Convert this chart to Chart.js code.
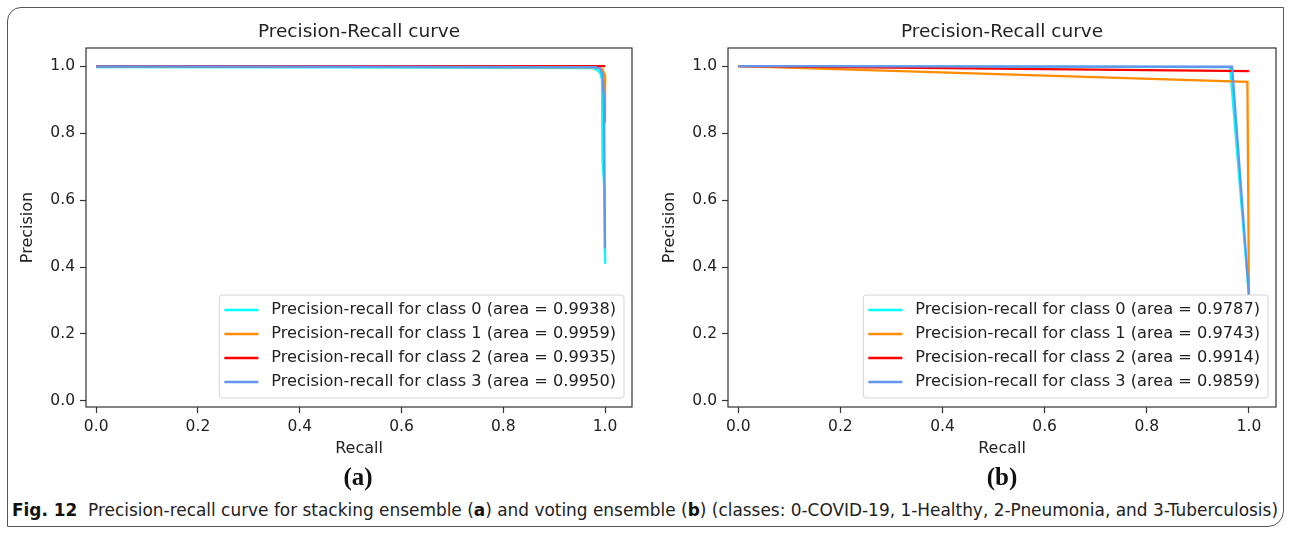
<!DOCTYPE html>
<html>
<head>
<meta charset="utf-8">
<script src="https://cdn.jsdelivr.net/npm/chart.js@4.4.0/dist/chart.umd.min.js"></script>
<style>
  html, body { margin: 0; padding: 0; background: #fff; }
  body { width: 1290px; height: 533px; position: relative; overflow: hidden; }
  #frame {
    position: absolute; left: 7px; top: 7px; width: 1277px; height: 520px;
    box-sizing: border-box; border: 1.5px solid #555; border-radius: 14px 0 16px 0;
  }
  .wrap { position: absolute; top: 0; width: 642px; height: 470px; }
  #wrapA { left: 0; }
  #wrapB { left: 642px; }
  .sub {
    position: absolute; top: 462px; transform: translateX(-50%);
    font: bold 25px "Liberation Serif", serif; line-height: 30px; color: #111;
  }
  #caption {
    position: absolute; left: 12px; top: 498px; white-space: nowrap;
    font-family: "Liberation Sans Narrow", "DejaVu Sans Condensed", "Liberation Sans", sans-serif;
    font-size: 18px; line-height: 23px; color: #222; transform-origin: left top;
  }
  #caption b { color: #111; }
</style>
</head>
<body>
<div id="frame"></div>
<div class="wrap" id="wrapA"><canvas id="chartA" width="642" height="470"></canvas></div>
<div class="wrap" id="wrapB"><canvas id="chartB" width="642" height="470"></canvas></div>
<div class="sub" style="left:358px">(a)</div>
<div class="sub" style="left:1002px">(b)</div>
<div id="caption"><b>Fig. 12</b>&nbsp; Precision-recall curve for stacking ensemble (<b>a</b>) and voting ensemble (<b>b</b>) (classes: 0-COVID-19, 1-Healthy, 2-Pneumonia, and 3-Tuberculosis)</div>

<script>
"use strict";

// shared
var classIds = [0, 1, 2, 3];
var lineColors = ["#00ffff", "#ff8c00", "#ff0000", "#6495ed"];
var tickValues = [0, 0.2, 0.4, 0.6, 0.8, 1.0];
var tickLabels = ["0.0", "0.2", "0.4", "0.6", "0.8", "1.0"];

// (a) stacking ensemble
var stackAreas = [0.9938, 0.9959, 0.9935, 0.9950];
var stackRecall0 = [0, 0.5, 0.975, 0.985, 0.991, 0.994, 0.995, 0.998, 1.0];
var stackPrec0 = [0.997, 0.996, 0.994, 0.988, 0.978, 0.96, 0.72, 0.65, 0.41];
var stackRecall1 = [0, 0.5, 0.985, 0.995, 1.0, 1.0];
var stackPrec1 = [1.0, 0.998, 0.996, 0.99, 0.97, 0.83];
var stackRecall2 = [0, 0.5, 1.0];
var stackPrec2 = [1.0, 1.0, 1.0];
var stackRecall3 = [0, 0.5, 0.98, 0.99, 0.995, 0.998, 1.0];
var stackPrec3 = [0.999, 0.998, 0.997, 0.993, 0.975, 0.9, 0.455];

// (b) voting ensemble
var voteAreas = [0.9787, 0.9743, 0.9914, 0.9859];
var voteRecall0 = [0, 0.963, 1.0];
var votePrec0 = [1.0, 0.997, 0.316];
var voteRecall1 = [0, 0.997, 1.0];
var votePrec1 = [1.0, 0.953, 0.316];
var voteRecall2 = [0, 1.0];
var votePrec2 = [1.0, 0.985];
var voteRecall3 = [0, 0.967, 1.0];
var votePrec3 = [1.0, 0.998, 0.316];

var stackRecalls = [stackRecall0, stackRecall1, stackRecall2, stackRecall3];
var stackPrecs = [stackPrec0, stackPrec1, stackPrec2, stackPrec3];
var voteRecalls = [voteRecall0, voteRecall1, voteRecall2, voteRecall3];
var votePrecs = [votePrec0, votePrec1, votePrec2, votePrec3];

var textColor = "#222";
var spineColor = "#333";
var fontFamily = '"DejaVu Sans", sans-serif';

function makeSets(recalls, precs, areas) {
  return recalls.map(function (r, i) {
    return {
      label: "Precision-recall for class " + classIds[i] + " (area = " + areas[i].toFixed(4) + ")",
      data: r.map(function (x, j) { return { x: x, y: precs[i][j] }; }),
      borderColor: lineColors[i],
      backgroundColor: lineColors[i],
      showLine: true,
      pointRadius: 0,
      borderWidth: 2.3,
      fill: false,
      order: classIds.length - 1 - i // later classes on top, like matplotlib
    };
  });
}

// spines, title and the boxed legend drawn matplotlib-like
var mplFrame = {
  id: "mplFrame",
  afterDatasetsDraw: function (chart, args, opts) {
    var ctx = chart.ctx;
    var a = chart.chartArea;
    ctx.save();
    ctx.strokeStyle = spineColor;
    ctx.lineWidth = 1.2;
    ctx.strokeRect(a.left, a.top, a.right - a.left, a.bottom - a.top);

    ctx.fillStyle = textColor;
    ctx.font = "18.5px " + fontFamily;
    ctx.textAlign = "center";
    ctx.textBaseline = "middle";
    ctx.fillText(opts.title, (a.left + a.right) / 2, 32);

    // legend, lower right
    ctx.font = "16.2px " + fontFamily;
    var sets = chart.data.datasets;
    var tw = 0;
    sets.forEach(function (d) { tw = Math.max(tw, ctx.measureText(d.label).width); });
    var rowH = 24;
    var boxW = 5 + 34 + 13 + tw + 8;
    var boxH = sets.length * rowH + 7;
    var right = a.right - 8;
    var bottom = a.bottom - 9;
    var left = right - boxW;
    var top = bottom - boxH;
    ctx.beginPath();
    ctx.roundRect(left, top, boxW, boxH, 3);
    ctx.fillStyle = "rgba(255,255,255,0.85)";
    ctx.fill();
    ctx.strokeStyle = "#d4d4d4";
    ctx.lineWidth = 1;
    ctx.stroke();
    ctx.textAlign = "left";
    sets.forEach(function (d, i) {
      var cy = top + 15 + i * rowH;
      ctx.strokeStyle = d.borderColor;
      ctx.lineWidth = 2.5;
      ctx.beginPath();
      ctx.moveTo(left + 5, cy);
      ctx.lineTo(left + 39, cy);
      ctx.stroke();
      ctx.fillStyle = textColor;
      ctx.fillText(d.label, left + 52, cy);
    });
    ctx.restore();
  }
};

function axis(min, max, title, isY) {
  return {
    type: "linear",
    min: min,
    max: max,
    afterBuildTicks: function (s) {
      s.ticks = tickValues.map(function (v) { return { value: v }; });
    },
    afterFit: function (s) {
      if (isY) s.width = 86; else s.height = 63;
    },
    ticks: {
      autoSkip: false,
      maxRotation: 0,
      padding: 5,
      color: textColor,
      font: { family: fontFamily, size: 15.5 },
      callback: function (v, i) { return tickLabels[i]; }
    },
    grid: {
      display: true,
      drawOnChartArea: false,
      drawTicks: true,
      tickLength: 6,
      tickColor: spineColor,
      tickWidth: 1.2
    },
    border: { display: false },
    title: {
      display: true,
      text: title,
      color: textColor,
      font: { family: fontFamily, size: 16 },
      padding: isY ? { top: 18, bottom: 0 } : { top: 0, bottom: 12 }
    }
  };
}

function makeChart(id, sets, padRight) {
  return new Chart(document.getElementById(id), {
    type: "scatter",
    data: { datasets: sets },
    options: {
      responsive: false,
      animation: false,
      devicePixelRatio: 1,
      layout: { padding: { left: 0, top: 48, right: padRight, bottom: 0 } },
      elements: { line: { tension: 0 } },
      plugins: {
        legend: { display: false },
        tooltip: { enabled: false },
        mplFrame: { title: "Precision-Recall curve" }
      },
      scales: {
        x: axis(-0.02, 1.053, "Recall", false),
        y: axis(-0.018, 1.054, "Precision", true)
      }
    },
    plugins: [mplFrame]
  });
}

makeChart("chartA", makeSets(stackRecalls, stackPrecs, stackAreas), 10);
makeChart("chartB", makeSets(voteRecalls, votePrecs, voteAreas), 8);

// fit the caption line to the frame width
var cap = document.getElementById("caption");
var capW = cap.getBoundingClientRect().width;
cap.style.transform = "scaleX(" + (1266 / capW) + ")";
</script>
</body>
</html>
